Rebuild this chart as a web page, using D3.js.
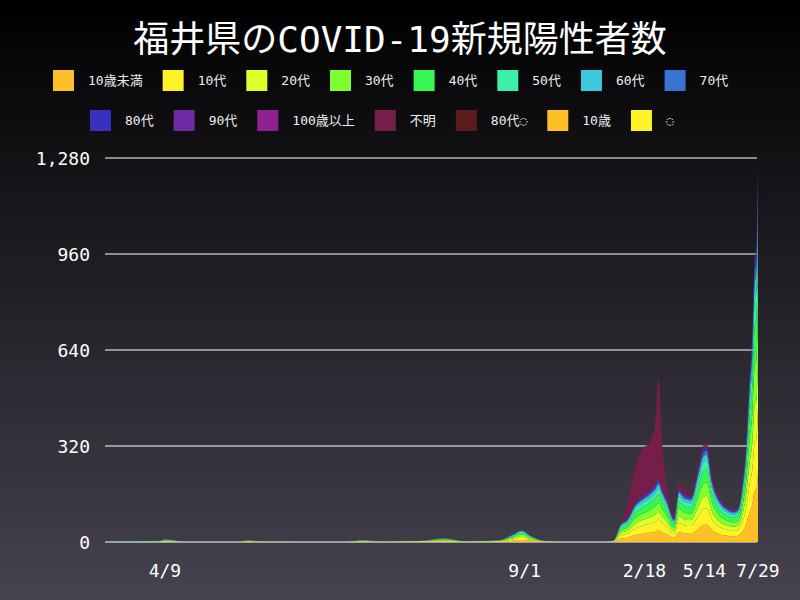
<!DOCTYPE html><html><head><meta charset="utf-8"><script src="https://cdn.jsdelivr.net/npm/d3@7"></script>
<style>body{margin:0}svg{display:block}</style></head><body><svg id="c" width="800" height="600"></svg><script>
const dates=["2020-01-15","2020-04-01","2020-04-09","2020-04-20","2020-05-05","2020-07-25","2020-08-05","2020-08-20","2020-12-20","2021-01-15","2021-02-10","2021-04-10","2021-05-10","2021-06-10","2021-07-25","2021-08-15","2021-08-28","2021-09-10","2021-09-25","2021-10-20","2021-12-25","2022-01-05","2022-01-15","2022-01-25","2022-02-05","2022-02-15","2022-02-25","2022-03-05","2022-03-10","2022-03-15","2022-03-22","2022-04-01","2022-04-08","2022-04-15","2022-04-25","2022-05-05","2022-05-12","2022-05-17","2022-05-25","2022-06-05","2022-06-15","2022-06-25","2022-07-01","2022-07-07","2022-07-12","2022-07-17","2022-07-21","2022-07-24","2022-07-27","2022-07-29"];
const seriesNames=["10歳未満","10代","20代","30代","40代","50代","60代","70代","80代","90代","100歳以上","不明","80代◌","10歳","◌"];
const colors=["#ffc027","#fff227","#dcff2a","#7dff30","#37f553","#3cf0a8","#3cc9dc","#3773d0","#3a30c0","#6d2aa3","#8e2390","#761e4a","#5e1b1d","#ffc027","#fff227"];
const u10=[0,0,1,1,0,0,1,0,0,1,0,1,2,0,1,4,7,4,1,0,0,1,11,14,23,27,31,34,38,32,25,14,32,29,27,43,56,58,38,25,21,19,21,35,57,98,125,168,179,230];
const s10=[0,1,1,1,0,0,1,0,0,1,0,1,2,0,1,4,7,3,1,0,0,1,10,14,22,26,29,32,36,31,24,14,31,27,26,41,53,54,36,24,20,18,20,33,54,93,118,159,169,217];
const s20=[0,0,2,1,0,0,1,1,0,1,0,1,2,1,1,4,6,3,1,0,0,1,8,10,17,20,22,25,27,23,18,10,23,21,20,31,40,42,27,18,15,14,15,25,41,71,90,122,129,166];
const s30=[0,1,1,1,0,0,1,0,0,1,1,0,2,0,1,4,6,3,1,0,0,1,8,11,18,21,24,27,29,25,20,11,25,22,21,34,43,45,29,20,16,15,16,27,44,76,97,131,139,178];
const s40=[0,0,1,1,0,0,1,1,0,1,0,1,2,1,1,3,5,3,1,0,0,1,8,11,18,21,24,27,29,25,20,11,25,22,21,34,43,45,29,20,16,15,16,27,44,76,97,131,139,178];
const s50=[0,1,1,1,0,0,0,0,0,0,0,0,1,0,0,2,4,2,0,0,0,0,5,7,12,14,15,17,19,16,13,7,16,14,14,22,28,29,19,13,10,9,10,18,28,49,63,84,90,115];
const s60=[0,0,1,0,0,0,0,0,0,1,0,0,1,0,0,2,2,1,0,0,0,0,4,5,8,9,10,11,13,11,8,5,11,10,9,14,19,19,13,8,7,6,7,12,19,33,42,56,60,77];
const s70=[0,0,0,0,0,0,0,0,0,0,0,0,0,0,0,1,2,1,0,0,0,0,2,3,5,6,7,8,8,7,6,3,7,6,6,10,12,13,8,6,5,4,5,8,13,22,28,37,40,51];
const s80=[0,0,0,0,0,0,0,0,0,0,0,0,0,0,0,1,1,0,0,0,0,0,2,3,4,4,5,6,6,5,4,3,5,5,4,7,9,10,6,4,3,3,3,6,9,16,21,28,30,38];
const s90=[0,0,0,0,0,0,0,0,0,0,0,0,0,0,0,0,0,0,0,0,0,0,1,1,3,3,3,4,4,4,3,2,4,3,3,5,6,6,4,3,2,2,2,4,6,11,14,19,20,25];
const s100=dates.map(()=>0);
const unknown=[0,0,0,0,0,0,0,0,0,0,0,0,0,0,0,0,0,0,0,0,0,0,0,50,120,160,160,200,340,150,50,10,20,20,15,10,10,10,10,10,5,5,0,0,0,0,0,0,0,0];
const sX=dates.map(()=>0),sY=dates.map(()=>0),sZ=dates.map(()=>0);
const allSeries=[u10,s10,s20,s30,s40,s50,s60,s70,s80,s90,s100,unknown,sX,sY,sZ];
const yTicks=[0,320,640,960,1280];
const xTicks=["2020-04-09","2021-09-01","2022-02-18","2022-05-14","2022-07-29"];
const xTickLabels=["4/9","9/1","2/18","5/14","7/29"];

const svg=d3.select("#c");
const defs=svg.append("defs");
const g=defs.append("linearGradient").attr("id","bg").attr("x1",0).attr("y1",0).attr("x2",0).attr("y2",1);
g.append("stop").attr("offset","0").attr("stop-color","#000000");
g.append("stop").attr("offset","1").attr("stop-color","#46424f");
svg.append("rect").attr("width",800).attr("height",600).attr("fill","url(#bg)");
const font="'DejaVu Sans Mono','Noto Sans CJK JP',monospace";
svg.append("text").attr("x",400).attr("y",52).attr("text-anchor","middle").attr("fill","#fff").attr("font-size",36).attr("font-family",font).text("福井県のCOVID-19新規陽性者数");
const rows=[[0,8,53,80],[8,15,90,120]];
rows.forEach(([a,b,x0,y])=>{let x=x0;for(let i=a;i<b;i++){
 svg.append("rect").attr("x",x).attr("y",y-10).attr("width",21).attr("height",21).attr("fill",colors[i]);
 const t=svg.append("text").attr("x",x+35).attr("y",y+5).attr("fill","#eee").attr("font-size",13).attr("font-family",font).text(seriesNames[i]);
 x=x+35+t.node().getComputedTextLength()+20;}});
const parse=d3.timeParse("%Y-%m-%d");
const x=d3.scaleTime().domain([parse("2020-01-15"),parse("2022-07-29")]).range([105,758]);
const y=d3.scaleLinear().domain([0,1280]).range([542,158]);
yTicks.forEach(v=>{svg.append("line").attr("x1",105).attr("x2",757).attr("y1",y(v)).attr("y2",y(v)).attr("stroke","#fff").attr("stroke-width",1.2);
 svg.append("text").attr("x",90).attr("y",y(v)+7).attr("text-anchor","end").attr("fill","#fff").attr("font-size",18).attr("font-family",font).text(d3.format(",")(v));});
const data=dates.map((d,i)=>{const o={date:parse(d)};seriesNames.forEach((n,k)=>o[n]=allSeries[k][i]);return o;});
const stack=d3.stack().keys(seriesNames)(data);
const area=d3.area().x(d=>x(d.data.date)).y0(d=>y(d[0])).y1(d=>y(d[1])).curve(d3.curveMonotoneX);
svg.append("g").selectAll("path").data(stack).join("path").attr("d",area).attr("fill",(d,i)=>colors[i]);
xTicks.forEach((d,i)=>svg.append("text").attr("x",x(parse(d))).attr("y",577).attr("text-anchor","middle").attr("fill","#fff").attr("font-size",18).attr("font-family",font).text(xTickLabels[i]));
</script></body></html>
